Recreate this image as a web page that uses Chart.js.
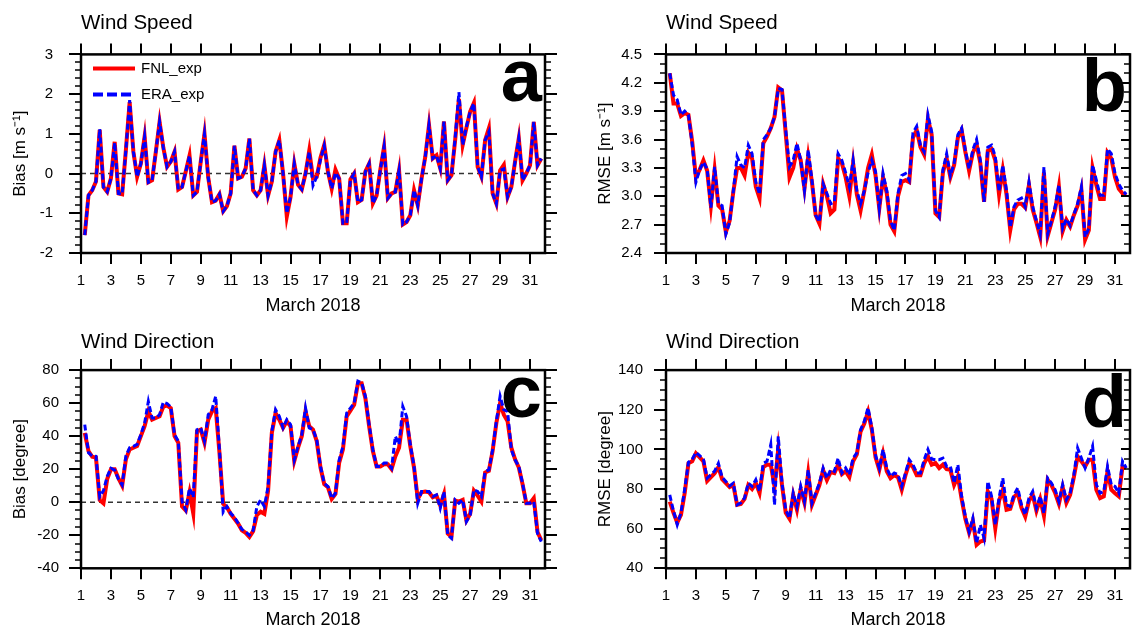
<!DOCTYPE html>
<html>
<head>
<meta charset="utf-8">
<title>March 2018 wind verification</title>
<script src="https://cdn.jsdelivr.net/npm/chart.js@4"></script>
<style>
  html, body { margin: 0; padding: 0; background: #fff; }
  #wrap { position: relative; width: 1132px; height: 630px; overflow: hidden; }
  canvas { position: absolute; }
</style>
</head>
<body>
<div id="wrap">
  <canvas id="spdBias" width="566" height="315" style="left:0;top:0"></canvas>
  <canvas id="spdRmse" width="566" height="315" style="left:566px;top:0"></canvas>
  <canvas id="dirBias" width="566" height="315" style="left:0;top:315px"></canvas>
  <canvas id="dirRmse" width="566" height="315" style="left:566px;top:315px"></canvas>
</div>
<script>
const FONT = "'Liberation Sans', Arial, Helvetica, sans-serif";
Chart.defaults.font.family = FONT;
Chart.defaults.color = '#000';

// 6-hourly verification times, in days of March (1.25 = 1 March 06 UTC)
const obsTimes = [];
for (let i = 0; i < 123; i++) obsTimes.push(1.25 + i * 0.25);

const dayTicks = [1, 3, 5, 7, 9, 11, 13, 15, 17, 19, 21, 23, 25, 27, 29, 31];
const spdBiasTicks = [-2, -1, 0, 1, 2, 3];
const spdRmseTicks = [2.4, 2.7, 3.0, 3.3, 3.6, 3.9, 4.2, 4.5];
const dirBiasTicks = [-40, -20, 0, 20, 40, 60, 80];
const dirRmseTicks = [40, 60, 80, 100, 120, 140];
const seriesNames = ['FNL_exp', 'ERA_exp'];

// wind speed bias (m/s), one row per day
const fnlSpdBias = [
  -1.55, -0.55, -0.42, -0.2,
  1.1, -0.34, -0.46, -0.12,
  0.8, -0.5, -0.52, 0.6,
  1.8, 0.55, -0.08, 0.25,
  0.93, -0.22, -0.17, 0.55,
  1.3, 0.65, 0.17, 0.3,
  0.55, -0.4, -0.34, 0.05,
  0.45, -0.55, -0.46, 0.3,
  1.0, -0.1, -0.72, -0.68,
  -0.52, -0.95, -0.82, -0.5,
  0.7, -0.12, -0.08, 0.13,
  0.88, -0.42, -0.55, -0.42,
  0.21, -0.55, -0.2, 0.55,
  0.84, 0.0, -1.08, -0.59,
  0.25, -0.28, -0.4, 0.0,
  0.58, -0.12, -0.08, 0.4,
  0.72, 0.05, -0.38, 0.1,
  -0.13, -1.25, -1.25, -0.15,
  0.0, -0.72, -0.66, 0.05,
  0.25, -0.75, -0.55, 0.1,
  0.68, -0.62, -0.5, -0.46,
  0.08, -1.28, -1.22, -1.05,
  -0.42, -0.8, -0.13, 0.42,
  1.22, 0.38, 0.46, 0.13,
  1.31, -0.17, -0.04, 0.85,
  1.88, 0.72, 1.15, 1.56,
  1.78, 0.17, -0.08, 0.84,
  1.14, -0.5, -0.76, 0.08,
  0.22, -0.59, -0.34, 0.3,
  0.89, -0.17, 0.0, 0.21,
  1.3, 0.21, 0.38
];
const eraSpdBias = [
  -1.55, -0.55, -0.42, -0.2,
  1.12, -0.34, -0.46, -0.12,
  0.78, -0.5, -0.52, 0.6,
  1.85, 0.55, -0.08, 0.25,
  0.93, -0.22, -0.17, 0.55,
  1.3, 0.65, 0.17, 0.3,
  0.55, -0.4, -0.34, 0.05,
  0.45, -0.55, -0.46, 0.3,
  1.0, -0.1, -0.72, -0.68,
  -0.52, -0.95, -0.82, -0.5,
  0.7, -0.12, -0.08, 0.13,
  0.88, -0.42, -0.55, -0.42,
  0.21, -0.55, -0.2, 0.55,
  0.84, 0.0, -1.0, -0.59,
  0.25, -0.28, -0.4, 0.0,
  0.55, -0.3, -0.08, 0.35,
  0.7, 0.05, -0.38, 0.02,
  -0.13, -1.25, -1.25, -0.15,
  0.0, -0.72, -0.66, 0.05,
  0.25, -0.75, -0.55, 0.1,
  0.68, -0.62, -0.5, -0.46,
  0.08, -1.28, -1.22, -1.05,
  -0.42, -0.8, -0.13, 0.42,
  1.22, 0.38, 0.46, 0.13,
  1.31, -0.17, -0.04, 0.9,
  2.05, 0.72, 1.18, 1.56,
  1.77, 0.17, -0.08, 0.84,
  1.05, -0.5, -0.76, 0.08,
  0.12, -0.59, -0.34, 0.3,
  0.89, -0.17, 0.0, 0.21,
  1.3, 0.21, 0.38
];

// wind speed RMSE (m/s)
const fnlSpdRmse = [
  4.30, 3.98, 3.98, 3.85,
  3.88, 3.86, 3.58, 3.2,
  3.28, 3.38, 3.27, 2.9,
  3.28, 2.9, 2.86, 2.62,
  2.74, 3.05, 3.3, 3.3,
  3.22, 3.46, 3.4, 3.1,
  2.98, 3.56, 3.63, 3.72,
  3.84, 4.15, 4.12, 3.66,
  3.2, 3.3, 3.5, 3.38,
  3.08, 3.42, 3.15, 2.8,
  2.71, 3.13, 3.0, 2.82,
  2.86, 3.4, 3.35, 3.2,
  3.0, 3.35, 3.02, 2.85,
  3.06, 3.3, 3.44, 3.22,
  2.87, 3.2, 3.03, 2.7,
  2.63, 3.0, 3.15, 3.17,
  3.15, 3.62, 3.7, 3.52,
  3.44, 3.82, 3.65, 2.82,
  2.78, 3.25, 3.4, 3.2,
  3.33, 3.62, 3.7, 3.47,
  3.27, 3.46, 3.55, 3.35,
  2.94, 3.48, 3.5, 3.38,
  3.02, 3.28, 3.02, 2.64,
  2.86, 2.92, 2.92, 2.88,
  3.12, 2.86, 2.72, 2.57,
  3.25, 2.58, 2.72, 2.86,
  3.1, 2.63, 2.75, 2.68,
  2.8, 2.9, 3.07, 2.54,
  2.64, 3.3, 3.12, 2.97,
  2.97, 3.46, 3.4, 3.2,
  3.08, 3.03, 3.01
];
const eraSpdRmse = [
  4.30, 4.07, 4.02, 3.86,
  3.9, 3.86, 3.55, 3.15,
  3.28, 3.36, 3.29, 2.88,
  3.31, 2.92, 2.9, 2.6,
  2.72, 3.06, 3.42, 3.33,
  3.3, 3.54, 3.45, 3.15,
  3.02, 3.6, 3.65, 3.72,
  3.84, 4.14, 4.13, 3.7,
  3.31, 3.38, 3.56, 3.38,
  3.06, 3.49, 3.17, 2.8,
  2.73, 3.13, 3.03, 2.92,
  2.94, 3.45, 3.38, 3.25,
  3.1, 3.38, 3.06, 2.92,
  3.06, 3.25, 3.38, 3.26,
  2.87, 3.24, 3.06, 2.74,
  2.64, 3.03, 3.22, 3.24,
  3.17, 3.67, 3.74, 3.54,
  3.47, 3.86, 3.68, 2.85,
  2.78, 3.28, 3.45, 3.22,
  3.35, 3.65, 3.72, 3.49,
  3.29, 3.49, 3.6, 3.38,
  2.94, 3.52, 3.54, 3.42,
  3.05, 3.33, 3.06, 2.67,
  2.89, 2.96, 2.98, 2.89,
  3.15, 2.89, 2.74, 2.6,
  3.31, 2.6, 2.74, 2.89,
  3.12, 2.66, 2.76, 2.69,
  2.81, 2.92, 3.1, 2.57,
  2.66, 3.33, 3.17, 3.01,
  3.01, 3.5, 3.45, 3.24,
  3.13, 3.06, 3.02
];

// wind direction bias (degree)
const fnlDirBias = [
  42, 31, 27.5, 27,
  1.4, -0.6, 14, 20,
  20, 14.5, 10, 26,
  32, 33, 34, 40,
  46, 55, 50, 51,
  52, 58, 58.5, 57,
  40, 36, -2.6, -5,
  6, -6.7, 43, 44,
  36, 50, 55, 57,
  30, -1, -3, -7,
  -10, -13, -17, -18.5,
  -21, -17.5, -7.7, -5.7,
  -7, 7, 42, 54,
  50, 45, 49, 46,
  25, 33, 40, 55,
  46, 44, 37, 21,
  11, 9, 2, 5,
  24, 32, 52, 55.5,
  59, 72, 72, 63,
  46, 31, 21.7, 21.7,
  23, 23, 20, 27.7,
  33, 50, 50, 34,
  21, 2, 6, 6.5,
  6, 3, 4, -2,
  5, -19, -21, 1,
  0.4, 1.4, -11, -7,
  7, 4, 0.4, 18,
  19, 31, 48, 60,
  53, 49, 33, 26,
  21, 11, -0.6, -0.6,
  2.4, -18, -23
];
const eraDirBias = [
  47, 30, 28, 27.8,
  3.4, 7, 15.6, 20.6,
  19.5, 14, 10.5, 28,
  33, 33.8, 35, 41,
  48, 61, 51, 51,
  53, 60.6, 59.8, 57.7,
  40.9, 37, 0.4, -4.6,
  8.5, 3, 43.9, 45,
  37, 53, 56, 64.2,
  32, -6, -2.6, -6.7,
  -9, -12.7, -16.5, -17.8,
  -20, -17, -2.6, 1.4,
  -2.6, 9.5, 43, 56,
  52, 45, 50, 47,
  25.7, 33.8, 40.9, 57,
  45, 44, 37.9, 21.7,
  11.5, 9.5, 2.4, 5.5,
  25.7, 33.8, 54, 57,
  60, 73.3, 72.3, 64.2,
  47, 31.8, 21.7, 21.7,
  23.7, 23.7, 20.6, 39.9,
  34.9, 58, 52, 34.9,
  21.7, -0.6, 6.5, 6.5,
  6.5, 3.4, 4.5, -3.6,
  6.5, -19.8, -21.9, 1.4,
  -0.6, 1.4, -11.7, -7.7,
  7.5, 6.5, 3.4, 18.6,
  19.6, 31.8, 49, 64.2,
  56, 55, 31.8, 25.7,
  21.7, 11.5, -0.6, -0.6,
  0.4, -18.8, -23.8
];

// wind direction RMSE (degree)
const fnlDirRmse = [
  73.7, 68, 63, 67,
  78, 93, 94, 98,
  96, 94, 84, 86,
  88, 91, 85, 83,
  81, 82, 72, 72.5,
  75, 82, 80, 83,
  78, 91, 92.3, 92.3,
  81.3, 100, 82, 68,
  65, 77, 69.5, 80,
  73, 88, 72, 77,
  82, 89.5, 84.5, 88.5,
  88, 92.3, 87.5, 89,
  86, 94, 97.5, 109,
  113, 119, 110, 96,
  89.7, 98, 88.9, 85.5,
  87, 86, 79.6, 87,
  93, 91, 87, 87,
  93, 96.5, 92.3, 93.1,
  90.6, 92.3, 90, 89.7,
  82, 86.4, 75, 65,
  58, 64, 51.8, 53.5,
  54, 78.8, 75, 60.2,
  74, 79.6, 69.5, 70,
  76, 77.9, 70.5, 66.1,
  74, 77.1, 69, 75,
  66.5, 84.7, 82, 78,
  72.5, 81, 73, 77,
  86, 96.5, 94, 91.4,
  94.8, 94.8, 79.6, 75.4,
  76.3, 88.9, 79.6, 77.9,
  76.3, 91.4, 90.6
];
const eraDirRmse = [
  77, 69, 62, 68,
  80, 93.5, 95, 98.5,
  96.8, 95, 85.5, 87.2,
  89, 93, 86, 83.8,
  81.6, 83, 72, 73,
  75.5, 83, 81.3, 84.7,
  78.8, 93, 94, 102.4,
  72, 106.6, 83, 69.5,
  65.3, 77.9, 71.2, 81.3,
  73.7, 89.7, 72.9, 77.9,
  83, 90.6, 85.5, 89.7,
  88.9, 95.6, 88.1, 90.6,
  87.2, 95.6, 98.2, 110,
  114.2, 121, 111, 97,
  90.6, 99.9, 90.6, 86.4,
  88.1, 87.2, 81.3, 88.1,
  94.8, 92.3, 88.1, 88.1,
  94.8, 99.9, 95.1, 94.8,
  94.8, 95.6, 91.4, 91.4,
  83, 92.3, 76.3, 66.1,
  58.5, 65.3, 52.6, 61.9,
  55.2, 83.8, 76.3, 61.9,
  75.4, 85.5, 72, 71.2,
  77.1, 80.5, 72, 67,
  75.4, 78.8, 70.4, 76.3,
  67.8, 85.5, 83, 79.6,
  73.7, 82.2, 74.6, 77.9,
  87.2, 100.7, 95.6, 90.6,
  95.6, 101.6, 82.2, 77.9,
  78.8, 91.4, 82.2, 81.3,
  77.9, 94, 90.6
];

const toPoints = vals => vals.map((v, i) => ({ x: obsTimes[i], y: v }));

// box, mirrored ticks, minor ticks, panel letter and legend
const frame = {
  id: 'frame',
  afterDatasetsDraw(chart, args, o) {
    const { ctx, chartArea: a, scales: { x, y } } = chart;
    ctx.save();
    ctx.strokeStyle = '#000';
    ctx.lineWidth = 2;
    ctx.beginPath();
    dayTicks.forEach(d => {
      const px = Math.round(x.getPixelForValue(d));
      ctx.moveTo(px, a.top);
      ctx.lineTo(px, a.top - 11);
    });
    const dir = o.inwardRight ? -1 : 1;
    o.majors.forEach(v => {
      const py = Math.round(y.getPixelForValue(v));
      ctx.moveTo(a.right, py);
      ctx.lineTo(a.right + dir * (o.inwardRight ? 9 : 12), py);
    });
    ctx.stroke();

    ctx.lineWidth = 1.6;
    ctx.beginPath();
    const n = Math.round((y.max - y.min) / o.minor);
    for (let i = 0; i <= n; i++) {
      const v = y.min + i * o.minor;
      if (o.majors.some(m => Math.abs(m - v) < 1e-6)) continue;
      const py = Math.round(y.getPixelForValue(v));
      ctx.moveTo(a.left, py);
      ctx.lineTo(a.left - 6, py);
      ctx.moveTo(a.right, py);
      ctx.lineTo(a.right + dir * 6, py);
    }
    ctx.stroke();

    ctx.lineWidth = 2.5;
    ctx.strokeRect(a.left, a.top, a.right - a.left, a.bottom - a.top);

    ctx.fillStyle = '#000';
    ctx.font = 'bold 74px ' + FONT;
    ctx.textAlign = 'right';
    ctx.textBaseline = 'alphabetic';
    ctx.fillText(o.letter, a.right - 3, a.top + o.letterDrop);

    if (o.legend) {
      ctx.font = '15px ' + FONT;
      ctx.textAlign = 'left';
      ctx.textBaseline = 'middle';
      seriesNames.forEach((name, k) => {
        const ds = chart.data.datasets.find(d => d.label === name);
        const ly = a.top + 14 + k * 26;
        ctx.strokeStyle = ds.borderColor;
        ctx.lineWidth = 4;
        ctx.setLineDash(ds.borderDash ? [10, 4] : []);
        ctx.beginPath();
        ctx.moveTo(a.left + 12, ly);
        ctx.lineTo(a.left + 54, ly);
        ctx.stroke();
        ctx.fillText(name, a.left + 60, ly);
      });
    }
    ctx.restore();
  }
};

function makePanel(id, cfg) {
  const datasets = [
    { label: 'ERA_exp', data: toPoints(cfg.era), borderColor: '#0000ff', borderWidth: 3,
      borderDash: [6, 3], order: 0 },
    { label: 'FNL_exp', data: toPoints(cfg.fnl), borderColor: '#ff0000', borderWidth: 4, order: 1 }
  ];
  if (cfg.zeroLine) {
    datasets.push({ label: 'zero', data: [{ x: 1, y: 0 }, { x: 32, y: 0 }], borderColor: '#333',
      borderWidth: 1.5, borderDash: [5, 4], order: 2 });
  }
  return new Chart(document.getElementById(id), {
    type: 'line',
    data: { datasets },
    options: {
      responsive: false,
      animation: false,
      layout: { padding: cfg.padding },
      elements: { point: { radius: 0 }, line: { tension: 0 } },
      plugins: {
        legend: { display: false },
        tooltip: { enabled: false },
        title: {
          display: true, text: cfg.title, align: 'start', fullSize: false, color: '#000',
          font: { size: 20.5, weight: 'normal', lineHeight: 1.2 }, padding: cfg.titlePad
        },
        frame: {
          majors: cfg.ticks, minor: cfg.minor, letter: cfg.letter, letterDrop: cfg.letterDrop,
          inwardRight: cfg.inwardRight, legend: !!cfg.legend
        }
      },
      scales: {
        x: {
          type: 'linear', min: 1, max: 32,
          afterBuildTicks: s => { s.ticks = dayTicks.map(v => ({ value: v })); },
          afterFit: s => { s.height = cfg.xHeight; },
          ticks: { autoSkip: false, maxRotation: 0, padding: 8, font: { size: 15 } },
          grid: { drawOnChartArea: false, drawTicks: true, tickLength: 11, color: '#000', lineWidth: 2 },
          border: { display: false },
          title: { display: true, text: 'March 2018', font: { size: 18, lineHeight: 1 }, padding: 0 }
        },
        y: {
          min: cfg.ticks[0], max: cfg.ticks[cfg.ticks.length - 1],
          afterBuildTicks: s => { s.ticks = cfg.ticks.map(v => ({ value: v })); },
          afterFit: s => { s.width = cfg.yWidth; },
          ticks: { padding: cfg.yTickPad, font: { size: 15 }, callback: cfg.fmt },
          grid: { drawOnChartArea: false, drawTicks: true, tickLength: 12, color: '#000', lineWidth: 2 },
          border: { display: false },
          title: { display: true, text: cfg.yTitle, font: { size: 17, lineHeight: 1 },
            padding: { top: cfg.yTitlePad, bottom: 0 } }
        }
      }
    },
    plugins: [frame]
  });
}

const plain = v => String(v);
const oneDecimal = v => v.toFixed(1);
const topTitlePad = { top: 11.4, bottom: 18.4 };
const lowTitlePad = { top: 15.4, bottom: 15.1 };

makePanel('spdBias', {
  title: 'Wind Speed', yTitle: 'Bias [m s\u207B\u00B9]', fnl: fnlSpdBias, era: eraSpdBias,
  ticks: spdBiasTicks, minor: 0.2, fmt: plain, letter: 'a', letterDrop: 47, legend: true, zeroLine: true,
  padding: { left: 0, right: 21, top: 0, bottom: 0 }, yWidth: 81, xHeight: 62,
  titlePad: topTitlePad, yTitlePad: 11.5, yTickPad: 16, inwardRight: false
});
makePanel('spdRmse', {
  title: 'Wind Speed', yTitle: 'RMSE [m s\u207B\u00B9]', fnl: fnlSpdRmse, era: eraSpdRmse,
  ticks: spdRmseTicks, minor: 0.1, fmt: oneDecimal, letter: 'b', letterDrop: 57,
  padding: { left: 0, right: 2, top: 0, bottom: 0 }, yWidth: 100, xHeight: 62,
  titlePad: topTitlePad, yTitlePad: 30.5, yTickPad: 12, inwardRight: true
});
makePanel('dirBias', {
  title: 'Wind Direction', yTitle: 'Bias [degree]', fnl: fnlDirBias, era: eraDirBias,
  ticks: dirBiasTicks, minor: 5, fmt: plain, letter: 'c', letterDrop: 47, zeroLine: true,
  padding: { left: 0, right: 21, top: 0, bottom: 1 }, yWidth: 81, xHeight: 60.7,
  titlePad: lowTitlePad, yTitlePad: 11.5, yTickPad: 10, inwardRight: false
});
makePanel('dirRmse', {
  title: 'Wind Direction', yTitle: 'RMSE [degree]', fnl: fnlDirRmse, era: eraDirRmse,
  ticks: dirRmseTicks, minor: 5, fmt: plain, letter: 'd', letterDrop: 57,
  padding: { left: 0, right: 2, top: 0, bottom: 1 }, yWidth: 100, xHeight: 60.7,
  titlePad: lowTitlePad, yTitlePad: 30.5, yTickPad: 11, inwardRight: true
});
</script>
</body>
</html>
